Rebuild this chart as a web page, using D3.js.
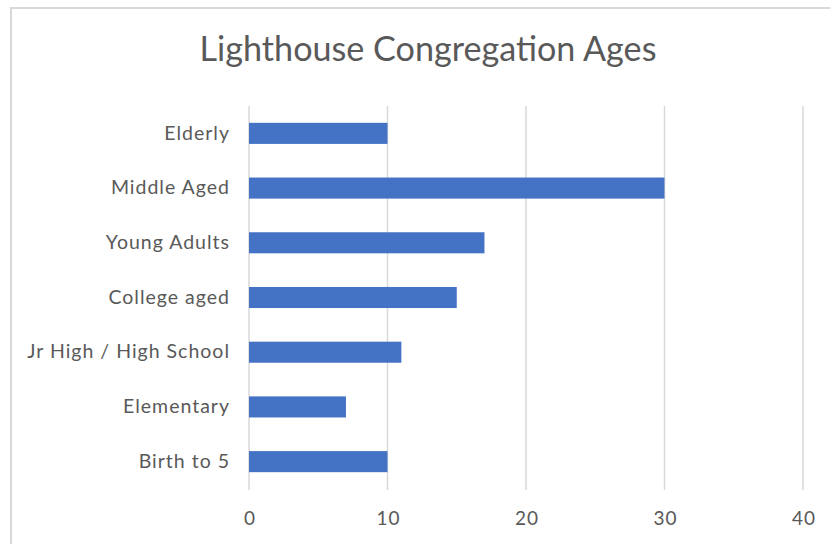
<!DOCTYPE html>
<meta charset="utf-8">
<html>
<head>
<style>
  body { margin: 0; background: #fff; }
  svg { display: block; }
  text { font-family: Lato, "Open Sans", sans-serif; fill: #595959; }
</style>
</head>
<body>
<svg width="830" height="544"></svg>
<script src="https://d3js.org/d3.v7.min.js"></script>
<script>

var categories = ["Elderly", "Middle Aged", "Young Adults", "College aged",
                  "Jr High / High School", "Elementary", "Birth to 5"];
var values = [10, 30, 17, 15, 11, 7, 10];
var xTicks = [0, 10, 20, 30, 40];
var title = "Lighthouse Congregation Ages";

var svg = d3.select("svg");

// chart frame
svg.append("rect")
    .attr("x", 11).attr("y", 8)
    .attr("width", 830).attr("height", 560)
    .attr("fill", "none")
    .attr("stroke", "#d9d9d9")
    .attr("stroke-width", 2);

var x = d3.scaleLinear().domain([0, 40]).range([249, 803]);
var y = d3.scaleBand().domain(categories).range([106, 489])
    .paddingInner(0.615).paddingOuter(0.3075);

// gridlines
svg.append("g")
  .selectAll("line")
  .data(xTicks)
  .enter().append("line")
    .attr("x1", function(d) { return x(d); })
    .attr("x2", function(d) { return x(d); })
    .attr("y1", 106).attr("y2", 490)
    .attr("stroke", "#d9d9d9")
    .attr("stroke-width", 1.5);

// bars
svg.append("g")
  .selectAll("rect")
  .data(categories)
  .enter().append("rect")
    .attr("x", x(0))
    .attr("y", function(d) { return y(d); })
    .attr("width", function(d, i) { return x(values[i]) - x(0); })
    .attr("height", y.bandwidth())
    .attr("fill", "#4472c4");

// x axis labels
var xAxis = svg.append("g")
    .attr("transform", "translate(0,511)")
    .call(d3.axisBottom(x).tickValues(xTicks).tickSize(0).tickPadding(0));
xAxis.select(".domain").remove();
xAxis.selectAll("text")
    .attr("dy", "0.71em")
    .attr("dx", "0.5px")
    .style("font-size", "19px")
    .style("letter-spacing", "1px")
    .style("font-family", "Lato, sans-serif")
    .attr("fill", "#595959");

// y axis labels
var yAxis = svg.append("g")
    .attr("transform", "translate(230,0)")
    .call(d3.axisLeft(y).tickSize(0).tickPadding(0));
yAxis.select(".domain").remove();
yAxis.selectAll("text")
    .style("font-size", "19.5px")
    .style("letter-spacing", "1px")
    .style("font-family", "Lato, sans-serif")
    .attr("fill", "#595959");

// title, sized to span the same width as the original
var t = svg.append("text")
    .attr("x", 428).attr("y", 61)
    .attr("text-anchor", "middle")
    .style("font-size", "30px")
    .text(title);
var w = t.node().getComputedTextLength();
t.style("font-size", (30 * 457 / w) + "px");

</script>
</body>
</html>
